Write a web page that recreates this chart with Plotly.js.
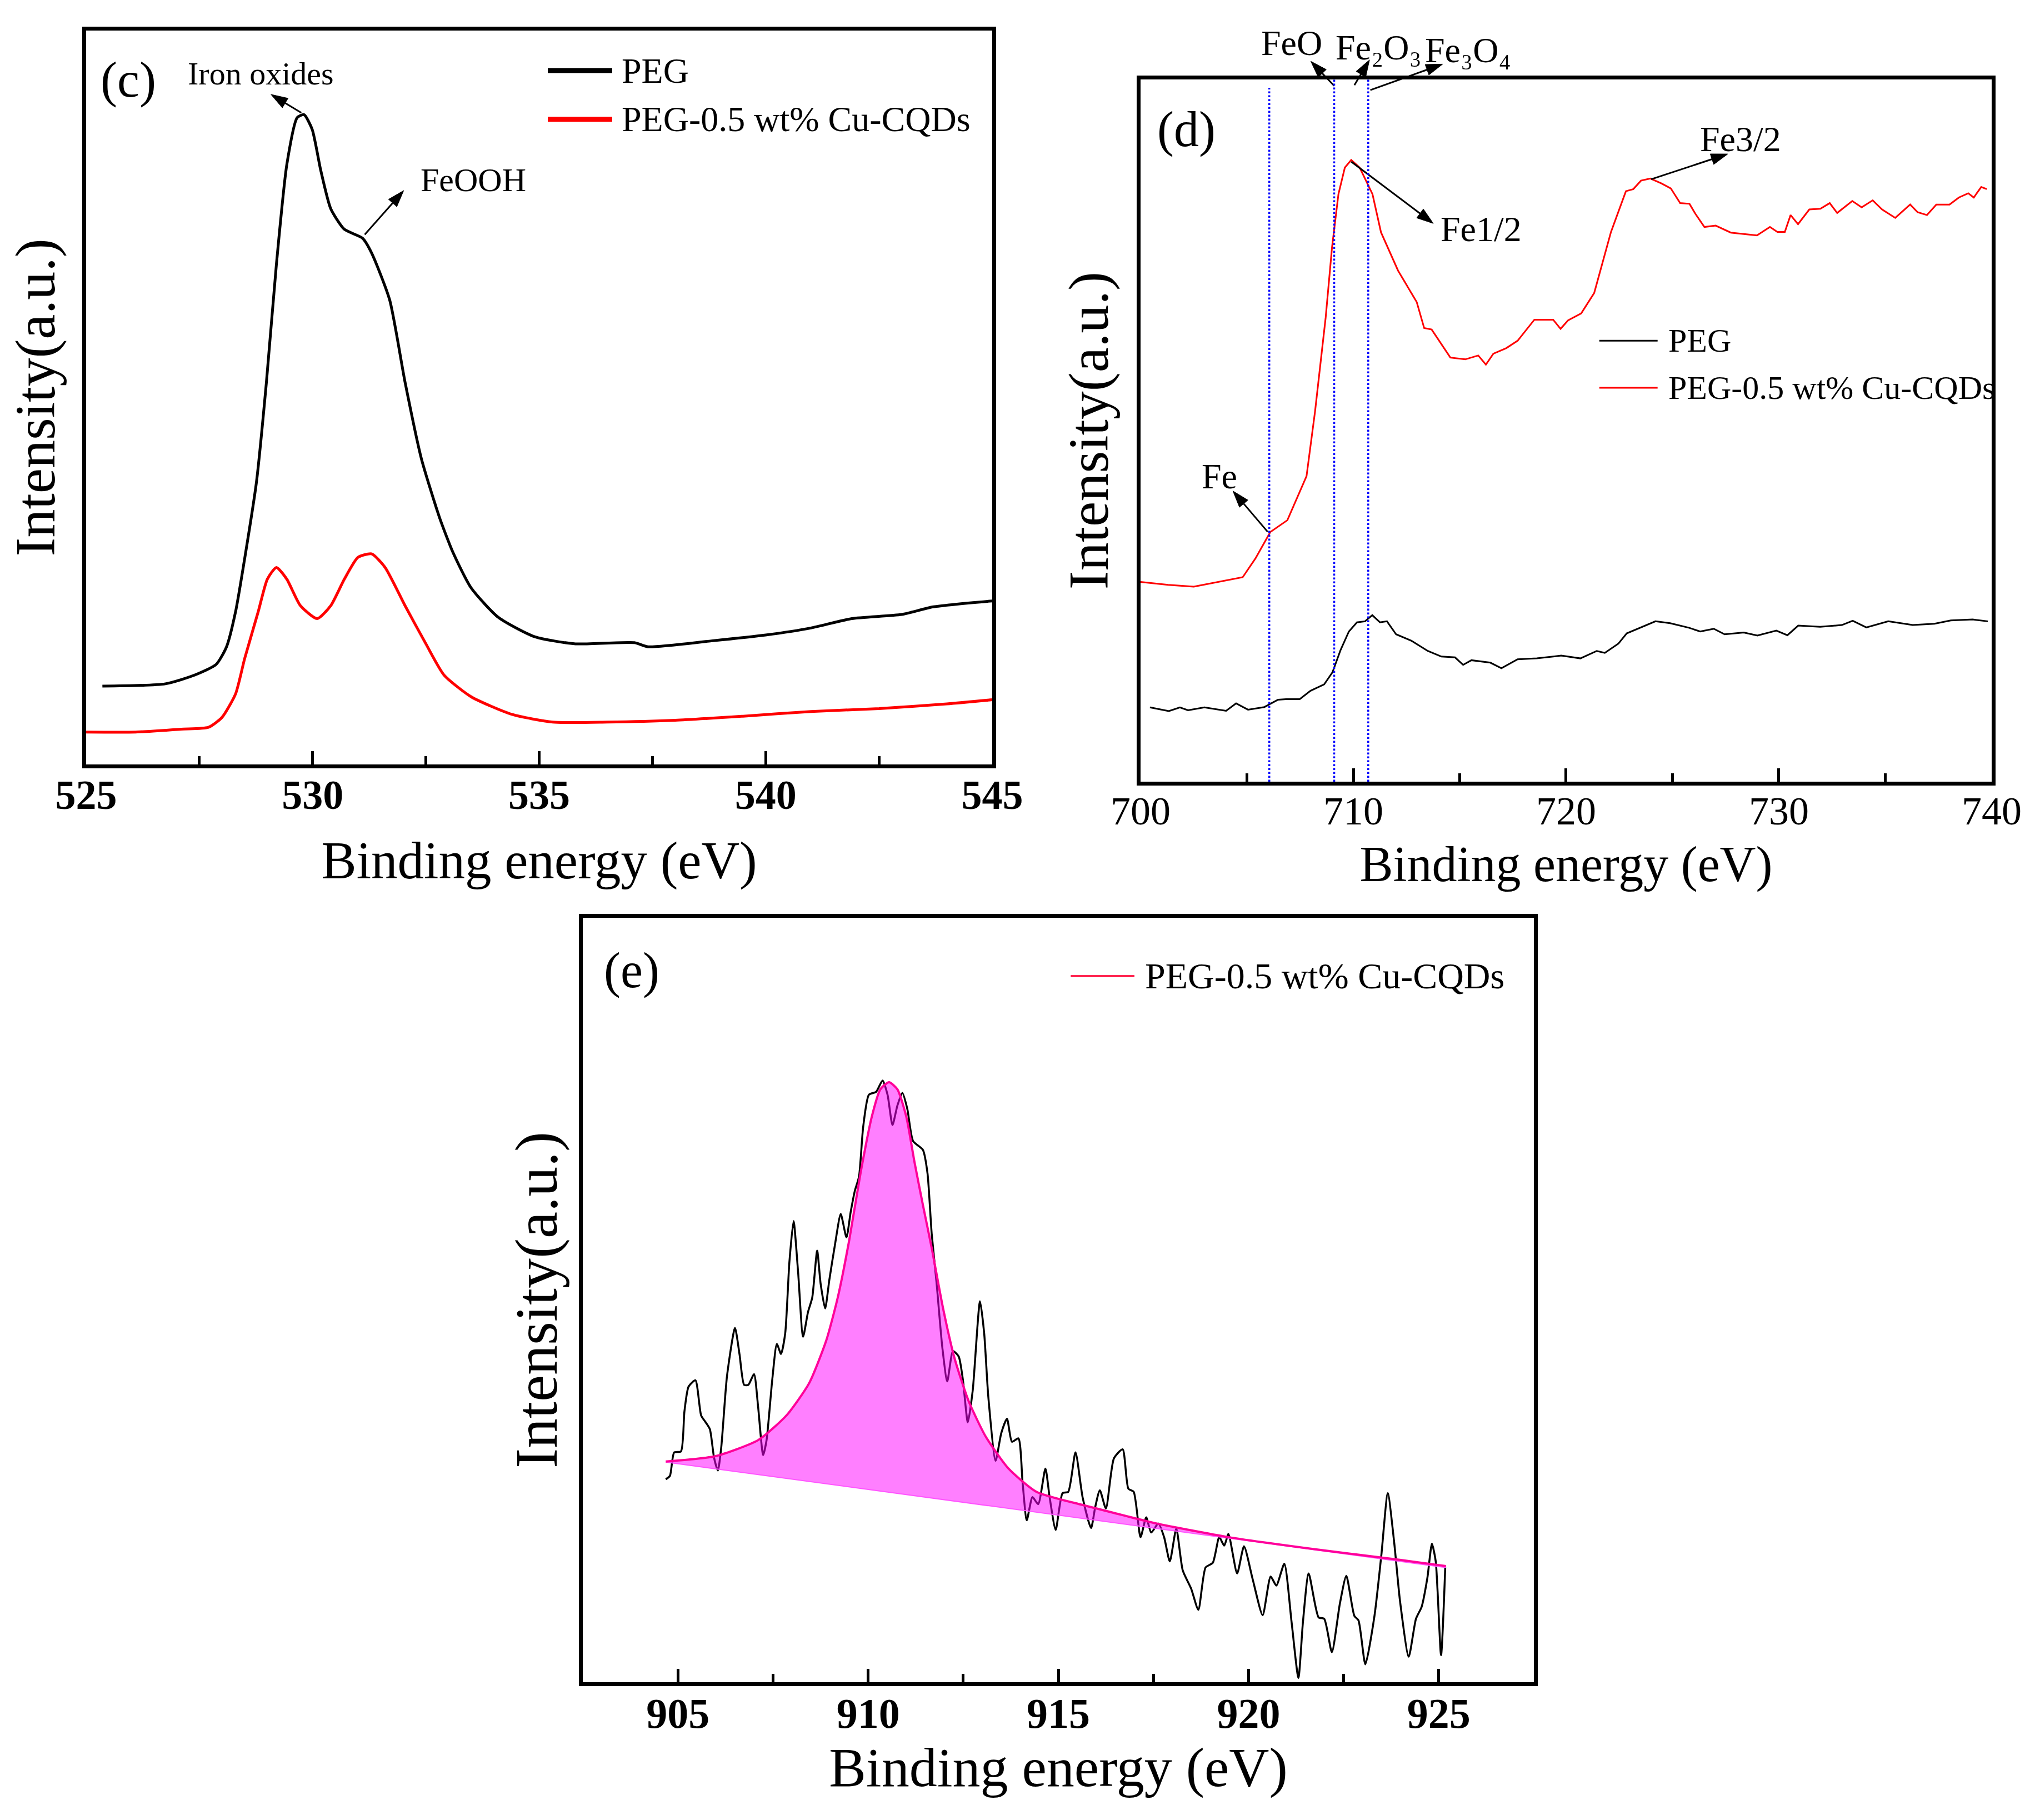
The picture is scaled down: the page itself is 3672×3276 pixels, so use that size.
<!DOCTYPE html>
<html>
<head>
<meta charset="utf-8">
<script src="https://cdn.plot.ly/plotly-3.0.1.min.js"></script>
<style>
  html, body { margin: 0; padding: 0; background: #fff; }
  #chart { width: 3672px; height: 3276px; }
</style>
</head>
<body>
<div id="chart"></div>
<script>
// panel (c): O 1s region
const cPegX = [525.36, 526.75, 527.4, 527.87, 528.1, 528.3, 528.5, 528.76, 528.98, 529.2, 529.43, 529.66, 529.81, 529.99, 530.18, 530.4, 530.7, 531.1, 531.3, 531.7, 532.04, 532.4, 532.8, 533.1, 533.5, 534.1, 534.9, 535.8, 537.1, 537.4, 538.8, 540, 541, 541.9, 543, 543.7, 545];
const cPegY = [10.66, 10.98, 12.18, 13.62, 16.03, 20.83, 28.04, 38.46, 52.08, 68.11, 81.73, 88.14, 88.54, 86.54, 80.93, 75.72, 72.92, 71.71, 69.71, 63.3, 52.08, 41.67, 33.65, 28.85, 24.04, 20.03, 17.39, 16.43, 16.59, 16.03, 16.83, 17.63, 18.59, 19.87, 20.43, 21.47, 22.28];
const cCuX = [525, 526.1, 527.1, 527.7, 528, 528.3, 528.5, 528.8, 529, 529.2, 529.43, 529.73, 530.1, 530.4, 530.7, 531, 531.3, 531.6, 532.04, 532.5, 532.9, 533.5, 534.4, 535.3, 536.5, 538, 539.5, 541, 542.5, 544, 545];
const cCuY = [4.41, 4.41, 4.81, 5.05, 6.41, 9.62, 14.42, 20.83, 25.24, 26.84, 25.24, 21.63, 19.87, 21.63, 25.24, 28.21, 28.69, 26.84, 21.63, 16.43, 12.18, 9.21, 6.81, 5.77, 5.77, 6.01, 6.57, 7.21, 7.61, 8.25, 8.81];

// panel (d): Fe 2p region
const dPegX = [700.44, 701.33, 701.85, 702.23, 703.0, 704.02, 704.49, 705.05, 705.82, 706.46,
  706.84, 707.48, 707.99, 708.63, 709.02, 709.4, 709.79, 710.17, 710.55, 710.89,
  711.25, 711.58, 712.01, 712.73, 713.5, 714.14, 714.78, 715.16, 715.55, 716.44,
  716.96, 717.72, 718.62, 719.77, 720.67, 721.44, 721.82, 722.46, 722.85, 723.49,
  724.2, 724.89, 725.79, 726.3, 726.94, 727.45, 728.35, 728.99, 729.88, 730.4,
  730.91, 731.94, 732.96, 733.47, 734.11, 735.14, 736.29, 737.31, 738.08, 739.11, 739.82];
const dPegY = [10.58, 10.05, 10.58, 10.18, 10.58, 10.1, 11.15, 10.26, 10.63, 11.68,
  11.76, 11.76, 12.95, 13.87, 15.59, 18.75, 21.39, 22.7, 22.84, 23.71,
  22.7, 22.84, 20.99, 20.07, 18.62, 17.82, 17.7, 16.64, 17.3, 16.95,
  16.16, 17.43, 17.56, 17.96, 17.56, 18.62, 18.35, 19.67, 21.12, 21.91,
  22.84, 22.57, 21.91, 21.39, 21.78, 20.99, 21.25, 20.81, 21.52, 20.86,
  22.23, 22.05, 22.31, 22.92, 21.97, 22.84, 22.31, 22.49, 22.97, 23.1, 22.84];
const dCuX = [700, 701.3, 702.5, 703.7, 704.8, 705.4, 706.1, 706.9, 707.8, 708.2,
  708.7, 709, 709.3, 709.6, 709.9, 710.3, 710.9, 711.3, 712.1, 712.98,
  713.33, 713.68, 714.56, 715.26, 715.87, 716.23, 716.58, 717.19, 717.72, 718.51,
  719.39, 719.74, 720.09, 720.71, 721.32, 722.11, 722.81, 723.16, 723.52, 723.96,
  724.48, 724.92, 725.36, 725.8, 726.07, 726.5, 727.03, 727.74, 728.97, 729.58,
  729.93, 730.28, 730.55, 730.9, 731.43, 731.95, 732.39, 732.74, 733.45, 733.89,
  734.41, 734.85, 735.47, 736.17, 736.52, 736.96, 737.4, 738.02, 738.46, 738.9,
  739.16, 739.51, 739.77];
const dCuY = [28.45, 28.03, 27.78, 28.45, 29.12, 31.8, 35.56, 37.24, 43.51, 52.72,
  66.11, 76.15, 83.68, 87.45, 88.54, 87.45, 83.68, 78.24, 72.8, 68.3,
  64.6, 64.4, 60.4, 60.15, 60.7, 59.4, 60.95, 61.75, 62.8, 65.8,
  65.8, 64.5, 65.7, 66.7, 69.6, 78.3, 84.1, 84.4, 85.6, 85.9,
  85.2, 84.5, 82.4, 82.3, 80.9, 79.0, 79.2, 78.2, 77.8, 79.0,
  78.3, 78.3, 80.7, 79.4, 81.5, 81.6, 82.4, 81.0, 82.7, 81.8,
  82.8, 81.5, 80.3, 82.2, 81.1, 80.7, 82.2, 82.2, 83.2, 83.8,
  83.2, 84.7, 84.4];
const dRefLines = [706.05, 709.1, 710.7];

// panel (e): Cu 2p region, raw spectrum, fitted peak and baseline
const eRawX = [904.68, 904.79, 904.9, 905.08, 905.17, 905.28, 905.46, 905.61, 905.73, 905.84,
  905.95, 906.05, 906.14, 906.29, 906.5, 906.62, 906.74, 906.85, 907.0, 907.11,
  907.24, 907.33, 907.48, 907.6, 907.71, 907.82, 907.93, 908.04, 908.16, 908.29,
  908.42, 908.53, 908.66, 908.75, 908.87, 908.98, 909.13, 909.28, 909.43, 909.54,
  909.65, 909.76, 909.87, 910.02, 910.21, 910.38, 910.51, 910.64, 910.77, 910.9,
  911.03, 911.18, 911.44, 911.56, 911.67, 911.8, 911.95, 912.08, 912.23, 912.38,
  912.49, 912.62, 912.75, 912.94, 913.05, 913.16, 913.35, 913.5, 913.65, 913.78,
  913.95, 914.06, 914.17, 914.32, 914.47, 914.66, 914.77, 914.93, 915.11, 915.26,
  915.45, 915.64, 915.86, 915.97, 916.09, 916.25, 916.46, 916.69, 916.84, 916.98,
  917.16, 917.31, 917.44, 917.63, 917.78, 917.93, 918.1, 918.27, 918.49, 918.68,
  918.87, 919.06, 919.23, 919.36, 919.47, 919.7, 919.88, 920.11, 920.37, 920.58,
  920.73, 920.94, 921.13, 921.31, 921.43, 921.58, 921.84, 921.99, 922.19, 922.4,
  922.57, 922.78, 922.89, 923.07, 923.31, 923.49, 923.66, 923.83, 923.98, 924.21,
  924.4, 924.55, 924.7, 924.82, 924.92, 925.06, 925.17];
const eRawY = [26.55, 27.0, 30.05, 30.2, 35.4, 38.67, 39.5, 34.9, 34.0, 33.1,
  29.35, 27.7, 30.8, 40.06, 46.35, 42.86, 38.9, 38.9, 40.3, 35.9,
  29.72, 31.68, 39.6, 44.25, 42.95, 45.65, 54.97, 60.33, 53.57, 45.2,
  48.45, 50.3, 56.45, 52.17, 48.9, 52.64, 57.3, 61.25, 58.2, 61.5,
  64.28, 66.15, 72.67, 76.86, 77.23, 78.72, 76.86, 72.9, 75.46, 77.1,
  75.0, 70.8, 69.64, 66.6, 58.7, 52.17, 43.8, 39.36, 43.32, 42.62,
  39.6, 34.0, 38.2, 49.84, 45.65, 37.27, 28.97, 32.6, 34.47, 31.45,
  31.91, 26.1, 21.2, 24.22, 23.29, 27.95, 24.22, 19.94, 24.73, 24.9,
  30.07, 24.13, 20.17, 22.94, 25.12, 22.74, 29.28, 30.47, 25.32, 24.92,
  18.98, 21.56, 19.58, 20.76, 18.98, 15.81, 20.09, 14.62, 12.25, 9.48,
  15.02, 15.62, 18.98, 17.87, 19.38, 14.23, 17.79, 13.44, 8.77, 13.83,
  12.65, 15.5, 7.9, 0.57, 7.9, 14.23, 8.49, 8.29, 3.93, 10.27,
  13.91, 8.69, 8.09, 2.35, 8.69, 16.6, 24.73, 18.19, 10.67, 3.34,
  8.29, 9.87, 13.64, 18.11, 15.81, 3.54, 15.02];
const eFitX = [904.68, 905.99, 907.11, 907.86, 908.45, 908.9, 909.2, 909.5, 909.8, 910.1, 910.32, 910.55, 910.77, 911.0, 911.22, 911.44, 911.67, 911.97, 912.27, 912.64, 913.09, 913.69, 914.43, 915.63, 916.46, 917.59, 919.47, 921.73, 923.98, 925.19];
const eFitY = [28.88, 29.58, 31.68, 34.94, 39.13, 44.72, 50.3, 57.76, 66.6, 74.06, 77.56, 78.5, 77.56, 74.06, 68.0, 62.42, 56.83, 48.9, 42.4, 36.8, 32.14, 27.95, 24.9, 23.2, 22.15, 20.76, 18.98, 17.4, 16.0, 15.2];
const eBaseX = [904.68, 925.19];
const eBaseY = [28.8, 15.0];

const serif = "Liberation Serif, Times New Roman, serif";
const W = 3672, H = 3276;
const domC = { x: [0.0422, 0.4864], y: [0.5800, 0.9832], xr: [525, 545], xref: "x domain", yref: "y domain" };
const domD = { x: [0.5591, 0.9763], y: [0.5705, 0.9563], xr: [700, 740], xref: "x2 domain", yref: "y2 domain" };
const domE = { x: [0.2857, 0.7519], y: [0.0757, 0.4957], xr: [902.5, 927.5], xref: "x3 domain", yref: "y3 domain" };

function line(x, y, xa, ya, color, width, shape) {
  return {
    x: x, y: y, xaxis: xa, yaxis: ya, type: "scatter", mode: "lines",
    line: { color: color, width: width, shape: shape || "linear", smoothing: 0.6 },
    hoverinfo: "skip", showlegend: false,
  };
}

const traces = [
  line(cPegX, cPegY, "x", "y", "#000000", 5, "spline"),
  line(cCuX, cCuY, "x", "y", "#ff0000", 5, "spline"),
  line(dPegX, dPegY, "x2", "y2", "#000000", 3),
  line(dCuX, dCuY, "x2", "y2", "#ff0000", 3),
  line(eRawX, eRawY, "x3", "y3", "#000000", 3.5, "spline"),
  line(eBaseX, eBaseY, "x3", "y3", "#ff55ff", 2),
  Object.assign(line(eFitX, eFitY, "x3", "y3", "#ff0099", 4, "spline"), {
    fill: "tonexty", fillcolor: "rgba(255,0,255,0.5)",
  }),
];

function xAxis(dom, bold, size, anchor, titleSize, standoff) {
  const range = dom.xr;
  const wide = range[1] - range[0] > 30;
  return {
    range: range, domain: dom.x, anchor: anchor,
    showline: true, linewidth: 7, linecolor: "#000", mirror: true,
    showgrid: false, zeroline: false,
    ticks: "inside", ticklen: 24, tickwidth: 5, tickcolor: "#000",
    tick0: range[0] % 5 === 0 ? range[0] : 905, dtick: wide ? 10 : 5,
    minor: { ticks: "inside", ticklen: 15, tickwidth: 5, tickcolor: "#000", dtick: wide ? 5 : 2.5 },
    ticklabelstandoff: -16,
    tickfont: { family: serif, size: size, color: "#000", weight: bold ? "bold" : "normal" },
    title: { text: "Binding energy (eV)", font: { family: serif, size: titleSize, color: "#000" }, standoff: standoff },
    fixedrange: true,
  };
}

function yAxis(dom, anchor, titleSize, standoff) {
  return {
    range: [0, 100], domain: dom.y, anchor: anchor,
    showline: true, linewidth: 7, linecolor: "#000", mirror: true,
    showgrid: false, zeroline: false, ticks: "", showticklabels: false,
    title: { text: "Intensity(a.u.)", font: { family: serif, size: titleSize, color: "#000" }, standoff: standoff },
    fixedrange: true,
  };
}

function label(text, x, y, xref, yref, size) {
  return { text: text, x: x, y: y, xref: xref, yref: yref, showarrow: false,
           xanchor: "center", yanchor: "middle",
           font: { family: serif, size: size, color: "#000" } };
}

function legendText(text, x, y, xref, yref, size) {
  return { text: text, x: x, y: y, xref: xref, yref: yref, showarrow: false,
           xanchor: "left", yanchor: "middle",
           font: { family: serif, size: size, color: "#000" } };
}

function legendLine(x0, x1, y, xref, yref, color, width) {
  return { type: "line", xref: xref, yref: yref, x0: x0, x1: x1, y0: y, y1: y,
           line: { color: color, width: width } };
}

// pointer arrow from a marked feature (tail) towards its label (head), as two shapes
function arrowShapes(dom, tail, head) {
  const pw = (dom.x[1] - dom.x[0]) * W, ph = (dom.y[1] - dom.y[0]) * H;
  const toPx = (p) => [(p[0] - dom.xr[0]) / (dom.xr[1] - dom.xr[0]) * pw, p[1] / 100 * ph];
  const t = toPx(tail), h = toPx(head);
  const dx = h[0] - t[0], dy = h[1] - t[1], len = Math.hypot(dx, dy);
  const ux = dx / len, uy = dy / len, L = 30, hw = 10;
  const bx = h[0] - ux * L, by = h[1] - uy * L;
  const f = (px, py) => (px / pw).toFixed(5) + "," + (py / ph).toFixed(5);
  return [
    { type: "line", xref: dom.xref, yref: dom.yref,
      x0: t[0] / pw, y0: t[1] / ph, x1: bx / pw, y1: by / ph,
      line: { color: "#000", width: 3 } },
    { type: "path", xref: dom.xref, yref: dom.yref,
      path: "M" + f(h[0], h[1]) + " L" + f(bx - uy * hw, by + ux * hw) +
            " L" + f(bx + uy * hw, by - ux * hw) + " Z",
      fillcolor: "#000", line: { color: "#000", width: 1 } },
  ];
}

const annotations = [
  // (c)
  label("(c)", 0.0465, 0.933, "x domain", "y domain", 90),
  label("Iron oxides", 528.86, 94.1, "x", "y", 58),
  label("FeOOH", 533.55, 79.6, "x", "y", 60),
  legendText("PEG", 0.590, 0.9455, "x domain", "y domain", 64),
  legendText("PEG-0.5 wt% Cu-CQDs", 0.590, 0.879, "x domain", "y domain", 64),
  // (d)
  label("(d)", 0.054, 0.929, "x2 domain", "y2 domain", 90),
  label("Fe1/2", 716.0, 78.7, "x2", "y2", 64),
  label("Fe3/2", 728.2, 91.5, "x2", "y2", 64),
  label("Fe", 703.7, 43.5, "x2", "y2", 64),
  label("FeO", 0.1775, 1.052, "x2 domain", "y2 domain", 64),
  label("Fe\u2082O\u2083", 0.280, 1.046, "x2 domain", "y2 domain", 64),
  label("Fe\u2083O\u2084", 0.385, 1.042, "x2 domain", "y2 domain", 64),
  legendText("PEG", 0.619, 0.628, "x2 domain", "y2 domain", 60),
  legendText("PEG-0.5 wt% Cu-CQDs", 0.619, 0.561, "x2 domain", "y2 domain", 60),
  // (e)
  label("(e)", 0.0516, 0.931, "x3 domain", "y3 domain", 90),
  legendText("PEG-0.5 wt% Cu-CQDs", 0.590, 0.924, "x3 domain", "y3 domain", 66),
];

const shapes = [
  legendLine(0.5095, 0.5806, 0.9455, "x domain", "y domain", "#000000", 9),
  legendLine(0.5095, 0.5806, 0.879, "x domain", "y domain", "#ff0000", 9),
  legendLine(0.539, 0.6075, 0.628, "x2 domain", "y2 domain", "#000000", 3),
  legendLine(0.539, 0.6075, 0.561, "x2 domain", "y2 domain", "#ff0000", 3),
  legendLine(0.513, 0.580, 0.924, "x3 domain", "y3 domain", "#ff0033", 3),
  ...arrowShapes(domC, [529.75, 88.8], [529.08, 91.3]),
  ...arrowShapes(domC, [531.15, 72.2], [532.01, 78.2]),
  ...arrowShapes(domD, [709.9, 88.3], [713.76, 79.5]),
  ...arrowShapes(domD, [724.0, 85.8], [727.6, 89.4]),
  ...arrowShapes(domD, [705.97, 35.6], [704.34, 41.4]),
  ...arrowShapes(domD, [709.1, 99.1], [708.0, 102.6]),
  ...arrowShapes(domD, [710.05, 99.2], [710.76, 102.8]),
  ...arrowShapes(domD, [710.8, 98.5], [714.2, 102.2]),
];
dRefLines.forEach((xv, i) => {
  shapes.push({ type: "line", xref: "x2", yref: "y2 domain", x0: xv, x1: xv,
                y0: 0, y1: i === 0 ? 0.988 : 1,
                line: { color: "#0000ff", width: 3.5, dash: "dot" } });
});

const layout = {
  width: W, height: H,
  margin: { l: 0, r: 0, t: 0, b: 0 },
  paper_bgcolor: "#ffffff", plot_bgcolor: "#ffffff",
  font: { family: serif, color: "#000" },
  showlegend: false,
  xaxis: xAxis(domC, true, 74, "y", 95, 46),
  yaxis: yAxis(domC, "x", 102, 18),
  xaxis2: xAxis(domD, false, 72, "y2", 90, 26),
  yaxis2: yAxis(domD, "x2", 102, 20),
  xaxis3: xAxis(domE, true, 76, "y3", 100, 22),
  yaxis3: yAxis(domE, "x3", 108, 6),
  annotations: annotations,
  shapes: shapes,
};

Plotly.newPlot("chart", traces, layout, { displayModeBar: false, staticPlot: true });
</script>
</body>
</html>
